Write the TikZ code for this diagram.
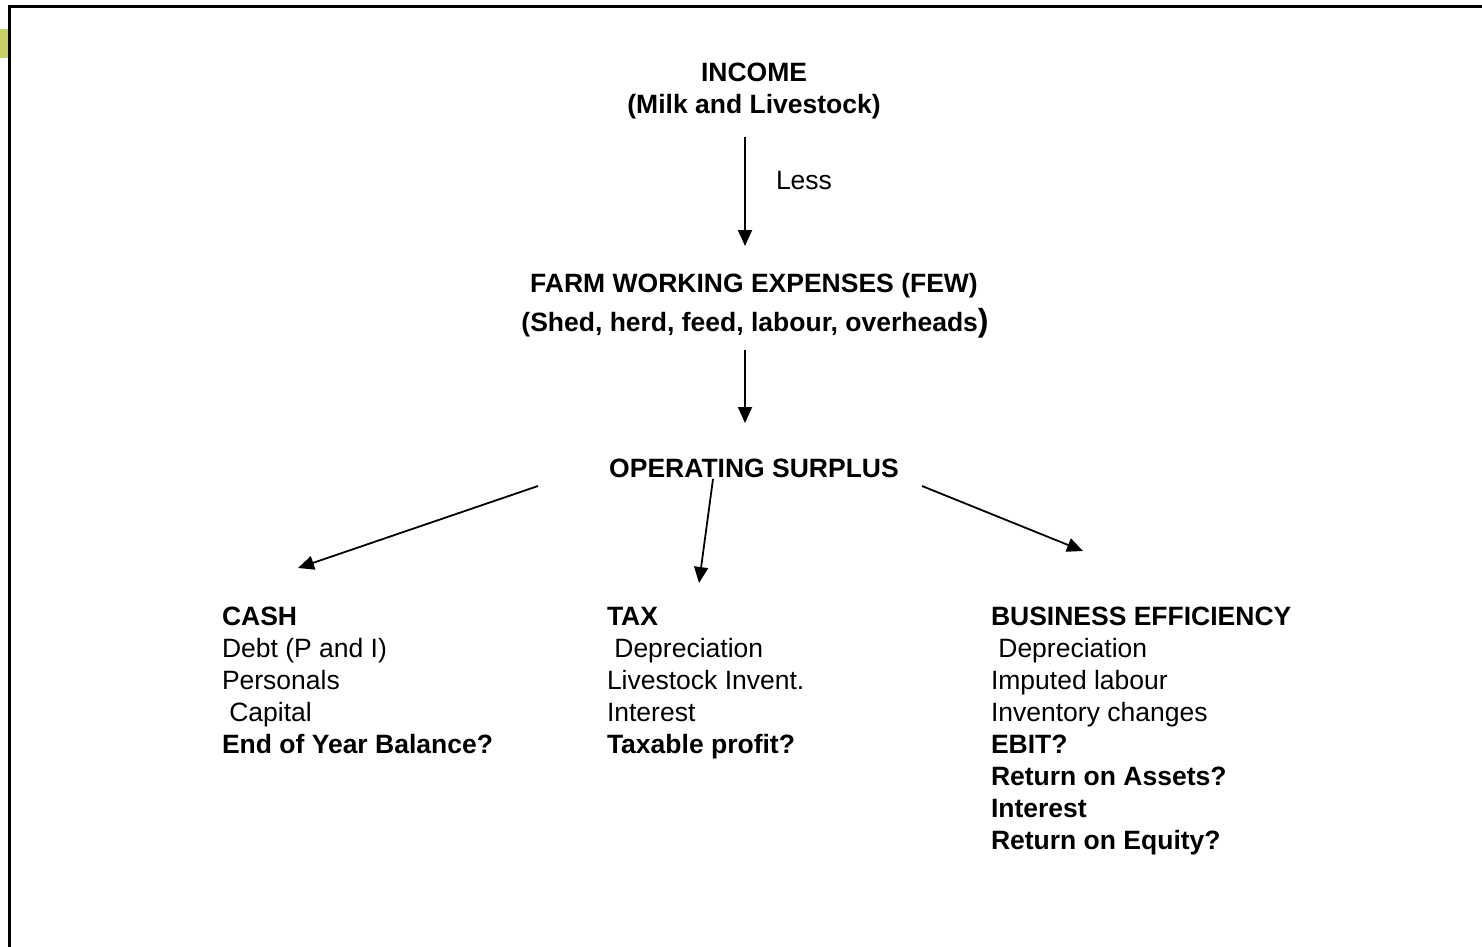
\documentclass[tikz,border=0pt]{standalone}
\usepackage{fontspec}
\setmainfont{Liberation Sans}
\usetikzlibrary{arrows.meta}
\definecolor{tabgreen}{HTML}{C8CF6A}
\begin{document}
\begin{tikzpicture}[x=1pt,y=-1pt,
  txt/.style={font=\fontsize{26.5}{32}\selectfont, inner sep=0pt, outer sep=0pt},
  head/.style={txt, font=\fontsize{26.5}{32}\selectfont\bfseries, anchor=base},
  block/.style={txt, align=left, anchor=base west},
  arr/.style={line width=1.8pt, -{Triangle[width=14pt,length=16pt]}}]
\useasboundingbox (0,0) rectangle (1482,946);
\fill[white] (0,0) rectangle (1482,946);
\fill[tabgreen] (0,29) rectangle (8,58);
\draw[line width=3pt] (9,960) -- (9,6.5) -- (1490,6.5);
% headings
\node[head] (inc) at (754,81) {INCOME};
\node[head] (milk) at (754,113) {(Milk and Livestock)};
\node[txt, anchor=base west] (less) at (776,189) {Less};
\node[head] (few) at (754,292) {FARM WORKING EXPENSES (FEW)};
\node[head] (shed) at (755,331) {(Shed, herd, feed, labour, overheads{\fontsize{32}{32}\selectfont)}};
\node[head] (os) at (754,477) {OPERATING SURPLUS};
% arrows
\coordinate (a1s) at (745,137); \coordinate (a1e) at (745,246);
\coordinate (a2s) at (745,350); \coordinate (a2e) at (745,423);
\coordinate (l1) at (538,486); \coordinate (l2) at (298,568);
\coordinate (m1) at (713,479); \coordinate (m2) at (699,583);
\coordinate (r1) at (922,486); \coordinate (r2) at (1083,551);
\draw[arr] (a1s) -- (a1e);
\draw[arr] (a2s) -- (a2e);
\draw[arr] (l1) -- (l2);
\draw[arr] (m1) -- (m2);
\draw[arr] (r1) -- (r2);
% blocks (base anchor = last line)
\node[block] (cash) at (222,753) {\textbf{CASH}\\Debt (P and I)\\Personals\\\ Capital\\\textbf{End of Year Balance?}};
\node[block] (tax) at (607,753) {\textbf{TAX}\\\ Depreciation\\Livestock Invent.\\Interest\\\textbf{Taxable profit?}};
\node[block] (bus) at (991,849) {\textbf{BUSINESS EFFICIENCY}\\\ Depreciation\\Imputed labour\\Inventory changes\\\textbf{EBIT?}\\\textbf{Return on Assets?}\\\textbf{Interest}\\\textbf{Return on Equity?}};
\end{tikzpicture}
\end{document}
